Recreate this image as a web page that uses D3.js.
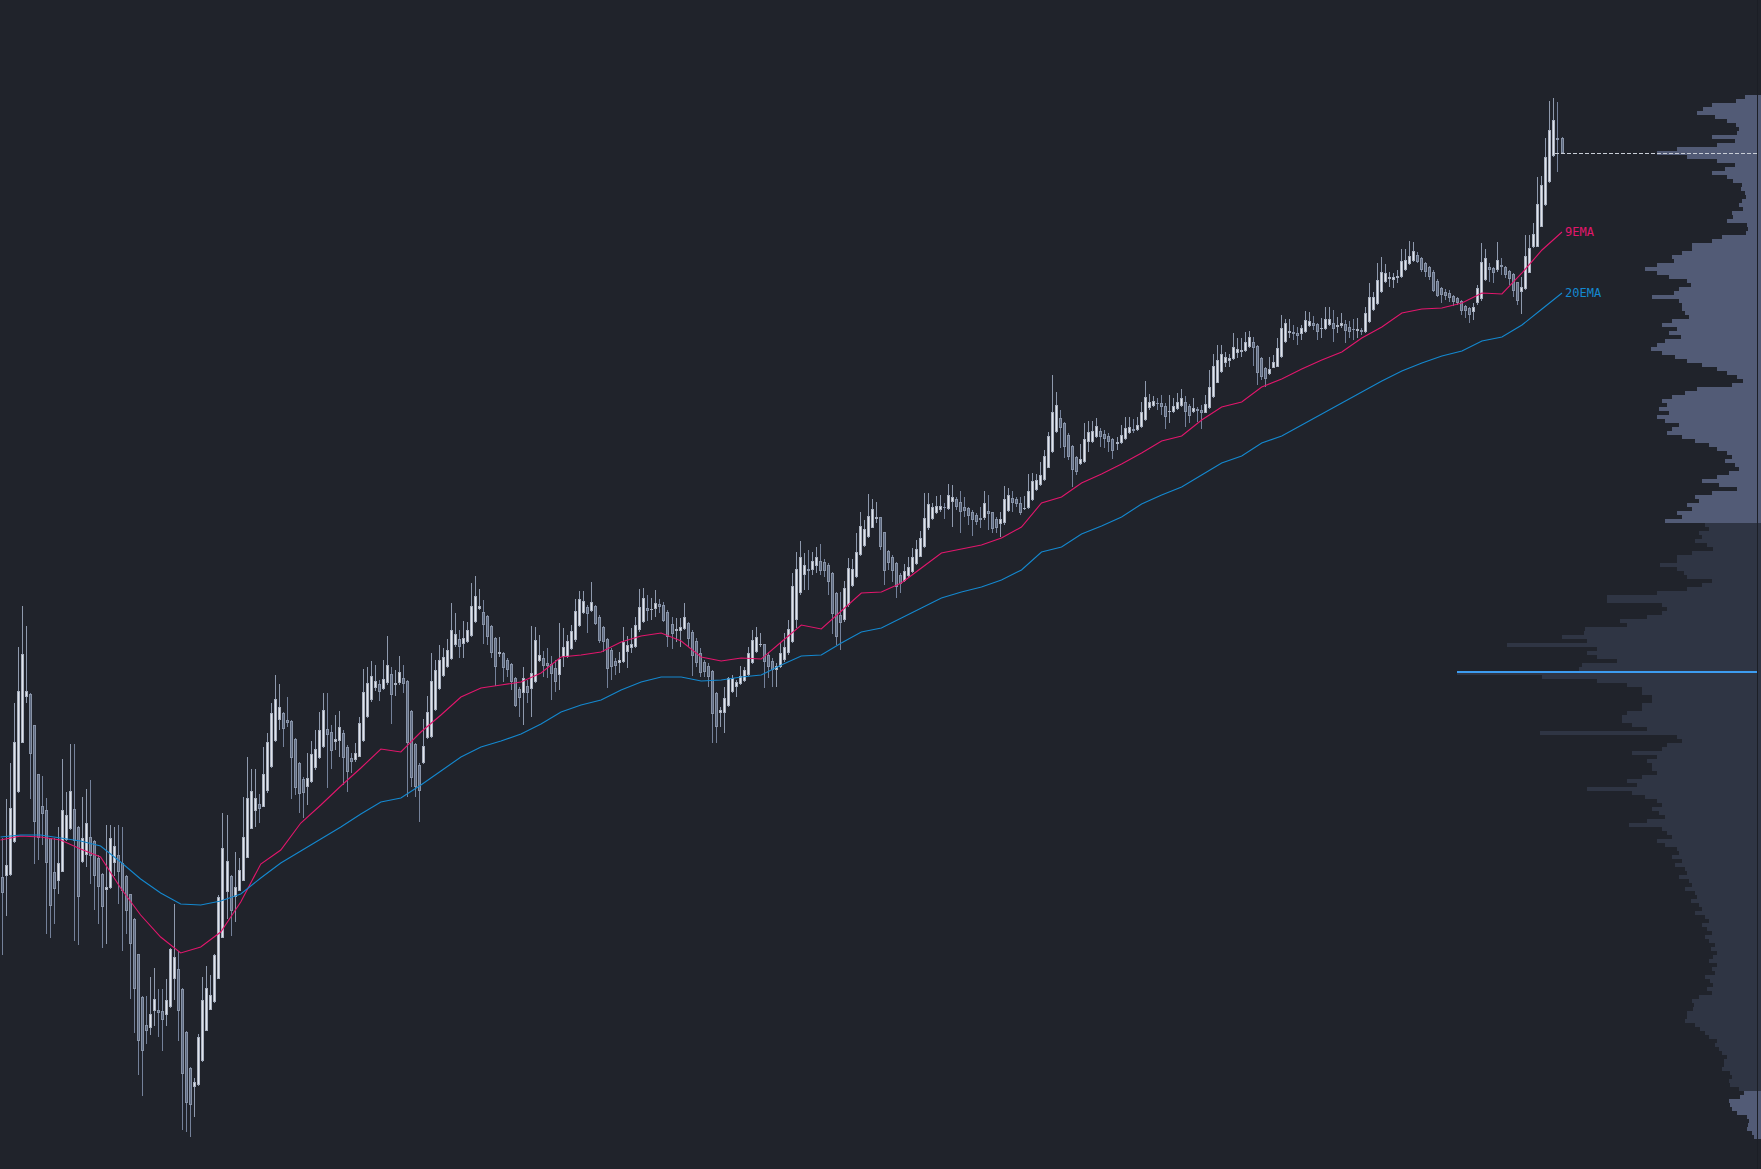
<!DOCTYPE html>
<html><head><meta charset="utf-8">
<script src="https://cdn.jsdelivr.net/npm/d3@7"></script>
<style>html,body{margin:0;padding:0;background:#20232b;overflow:hidden}</style>
</head><body>
<svg id="chart" width="1761" height="1169"></svg>
<script>
// candles: [open, high, low, close]
const candles = [
[323,362,245,307],[324,401,284,335],[325,437,324,392],[358,497,357,458],[408,553,407,509],[457,594,457,546],[503,574,497,509],[506,507,401,446],[475,475,336,378],[426,426,340,362],
[394,424,355,386],[390,402,266,337],[362,362,262,294],[328,362,276,311],[319,373,306,337],[328,441,328,390],[360,408,359,385],[371,456,370,409],[391,456,259,359],[373,374,255,303],
[338,403,337,362],[345,411,333,377],[363,420,316,344],[359,360,290,324],[342,345,276,313],[326,327,252,293],[310,375,256,313],[312,375,311,362],[337,373,324,354],[345,375,296,328],
[337,373,249,309],[324,325,266,289],[306,306,201,256],[281,282,167,211],[246,246,125,159],[203,204,104,149],[175,204,156,169],[172,223,165,186],[189,232,174,201],[190,211,163,187],
[189,211,149,180],[185,221,174,200],[193,252,192,251],[221,296,200,243],[231,249,159,189],[211,212,70,126],[168,169,68,97],[132,133,63,95],[113,122,83,118],[115,166,114,163],
[139,223,138,200],[169,234,169,212],[190,225,190,205],[198,246,197,245],[221,305,221,303],[262,387,262,352],[308,385,281,339],[324,325,264,289],[303,348,278,313],[309,342,309,330],
[319,403,319,363],[342,443,342,402],[371,431,371,409],[389,431,373,402],[396,406,377,391],[393,453,393,426],
[409,467,407,458],[433,497,432,487],[459,525,458,501],[480,516,470,493],[487,488,453,471],[480,503,473,477],[479,480,401,442],[461,462,405,412],[437,438,387,406],[421,423,382,407],
[413,447,395,422],[418,459,417,446],[432,470,430,451],[442,488,441,470],[453,507,452,490],[471,507,412,465],[468,475,431,449],[458,485,450,461],[459,489,443,473],[467,470,415,442],
[453,455,408,428],[442,447,427,438],[440,457,438,447],[443,483,443,477],[459,531,458,508],[483,533,482,517],[500,539,498,524],[512,535,509,519],[516,520,499,508],[511,540,510,521],
[517,564,515,535],[526,533,476,505],[515,530,504,517],[517,544,515,528],[522,535,507,516],[519,520,403,457],[489,490,413,422],[456,457,403,413],[435,437,378,409],[437,481,436,454],
[462,504,461,488],[463,547,462,519],[490,540,489,530],[511,555,510,540],[524,552,523,543],[533,561,532,550],[541,597,540,570],[555,587,553,566],[561,570,542,553],[556,579,542,562],
[558,578,557,570],[564,617,563,594],[578,624,577,604],[591,611,590,594],[588,600,556,575],[584,585,555,563],[574,575,542,547],[562,563,514,533],[546,563,543,548],[547,548,518,532],
[540,542,523,530],[536,537,510,518],[522,523,493,494],[511,513,483,502],[507,533,475,522],[514,520,497,507],[511,574,483,527],
[518,573,517,560],[539,565,538,545],[542,549,523,534],[537,552,522,534],[536,544,500,526],[532,540,508,518],[525,577,510,541],[543,572,533,553],[543,565,542,559],[551,575,550,569],
[560,601,558,589],[574,609,573,601],[587,609,586,599],[593,595,567,586],[589,618,588,598],[594,595,575,576],[583,585,557,559],[573,574,548,558],[561,562,512,531],[550,552,520,533],
[539,542,525,534],[537,548,527,540],[538,573,537,558],[548,564,532,555],[552,572,547,556],[553,583,552,575],[570,611,568,593],[578,612,577,602],[592,605,579,589],[590,602,580,591],
[591,610,583,597],[596,601,587,593],[595,598,578,579],[588,590,553,563],[576,583,551,566],[569,582,558,571],[569,582,553,573],[571,597,570,583],[577,578,553,561],[568,570,524,544],
[559,562,533,537],[547,552,523,527],[538,540,523,528],[534,537,513,523],[529,530,457,486],[507,508,457,473],[487,493,473,490],[487,513,467,502],[494,523,493,522],[508,525,507,522],
[513,520,503,518],[516,534,515,524],[519,533,518,530],[525,553,524,547],[537,570,536,560],[548,573,547,563],[555,567,553,556],[556,556,512,538],[545,548,522,533],[539,542,513,530],
[530,537,513,534],[533,558,532,547],[540,567,538,553],[547,580,545,571],[558,627,557,614],[580,648,572,631],
[607,659,605,643],[625,647,610,635],[631,650,610,629],[630,648,625,639],[634,653,627,643],[639,656,625,629],[638,641,623,629],[635,637,605,618],[627,628,566,586],[607,608,555,563],
[585,608,550,577],[580,619,578,612],[595,642,593,632],[614,641,613,631],[623,667,622,648],[645,688,644,674],[654,680,653,671],[663,706,662,684],[672,701,672,691],[681,698,677,683],
[683,683,650,653],[668,668,615,629],[649,650,630,637],[643,645,618,629],[637,638,602,613],[625,627,607,616],[619,636,618,629],[624,643,623,633],[628,652,627,643],[636,660,635,651],
[643,669,643,662],[653,707,652,682],[672,707,670,696],[681,697,680,693],[687,704,686,694],[690,705,688,694],[693,697,681,692],[691,716,690,705],[698,715,673,703],[701,703,690,693],
[698,709,667,688],[693,703,683,689],[692,693,675,684],[688,690,664,680],[685,687,675,678],[682,693,672,680],[682,709,680,697],[689,705,670,686],[688,688,667,671],[681,683,667,672],
[676,688,663,681],[677,714,675,701],[689,712,688,705],[702,709,688,697],[701,703,693,696],[697,703,685,687],[691,704,690,692],[692,726,691,709],[700,727,699,719],[710,726,709,720],
[715,738,714,725],[720,750,719,744],[732,768,732,764],[748,825,747,788],[768,808,767,795],[782,790,752,772],
[777,778,742,753],[765,767,740,743],[754,755,713,730],[743,744,725,728],[736,756,735,741],[738,777,737,761],[758,779,748,768],[758,779,757,769],[763,782,762,774],[769,772,753,763],
[766,770,752,761],[764,767,748,758],[761,762,741,749],[756,763,750,758],[757,775,756,765],[761,783,760,772],[767,783,766,773],[771,781,767,769],[770,783,769,775],[773,798,772,788],
[780,819,779,803],[792,806,790,798],[794,804,793,799],[797,802,790,796],[797,805,785,793],[794,797,771,783],[788,805,777,789],[788,802,787,794],[791,807,790,798],[794,811,793,802],
[798,804,773,788],[794,796,777,784],[788,802,787,792],[791,793,778,789],[790,795,771,787],[787,805,787,796],[792,830,791,813],[803,846,802,834],[817,855,817,840],[828,855,827,846],
[837,848,833,843],[839,846,833,842],[841,867,840,853],[847,862,842,851],[848,862,843,850],[849,868,848,858],[853,869,852,863],[858,863,834,852],[854,855,815,827],[842,843,820,823],
[832,833,813,821],[826,843,825,831],[832,845,832,838],[833,862,833,852],[843,885,842,872],[858,881,857,877],[867,881,862,869],[868,875,860,866],[867,873,855,864],[866,875,860,872],
[868,889,867,880],[874,888,873,879],[877,884,870,874],[876,877,860,868],[871,882,862,872],[871,893,870,881],
[875,893,874,881],[877,890,858,871],[873,883,867,875],[874,887,872,877],[876,880,857,869],[873,879,862,868],[871,881,860,870],[869,882,862,871],[870,872,865,868],[868,893,867,887],
[878,917,877,903],[890,908,889,903],[896,937,895,920],[908,943,907,928],[918,936,917,927],[921,928,913,923],[920,927,912,923],[922,930,917,924],[923,951,922,939],[930,951,929,940],
[936,959,935,944],[939,958,938,949],[945,948,937,938],[942,943,928,930],[937,938,923,928],[933,934,920,923],[928,930,908,909],[919,921,903,904],[912,913,897,905],[908,911,900,904],
[907,910,898,902],[904,905,894,898],[902,903,895,897],[899,900,885,889],[894,895,882,889],[892,893,877,885],[888,897,880,893],[897,915,895,912],[901,957,899,938],[920,951,919,942],
[933,937,918,930],[932,933,917,927],[930,958,928,940],[935,942,925,933],[933,934,922,925],[929,930,915,921],[926,927,903,909],[918,918,895,899],[908,923,886,913],[911,965,910,944],
[927,965,927,952],[953,977,952,966],[953,1023,953,996],[973,1024,973,1015],[995,1062,994,1043],[1018,1099,1017,1070],[1044,1102,1043,1080],[1062,1098,1028,1060],[1062,1063,1046,1047]
];

// higher-timeframe EMA values (one per 5 candles)
const ema9 = [360,364,363,360,351,343,312,285,263,247,253,268,298,336,350,377,395,414,432,451,
448,468,485,503,512,515,518,527,543,545,548,558,564,567,559,543,539,542,541,558,
575,571,589,607,608,617,632,647,651,655,662,673,697,703,717,726,736,747,759,764,
780,793,798,813,821,831,840,848,862,873,887,891,892,897,907,906,927,950,968];
const ema20 = [363,365,365,362,359,354,338,321,307,296,295,299,306,322,337,349,361,373,386,398,
402,415,429,443,453,459,466,476,488,495,500,510,518,523,523,519,520,523,525,535,
544,545,557,568,572,582,592,602,608,613,620,630,648,653,666,674,683,696,705,713,
725,737,744,757,764,775,786,797,808,819,829,837,844,849,859,863,875,891,907];
const emaNames = ["9EMA", "20EMA"];

// volume profile, rows from the top price downward
const profileTopPrice = 1105;
const profileRowSize = 4;
const profileVolumes = [
12,21,45,54,60,42,30,21,18,20, 45,22,40,80,100,70,40,22,32,45,
30,24,15,16,12,11,15,18,14,25, 24,30,10,9,11,35,45,65,65,75,
85,83,100,112,100,88,70,66,78,83, 105,78,75,75,72,68,85,95,80,88,
76,92,100,106,95,82,70,55,40,30, 20,14,25,60,72,85,95,90,98,88,
100,92,78,85,90,75,62,48,40,30, 25,32,22,18,28,40,55,38,20,45,
62,58,70,65,80,75,92,52,48,58, 55,62,50,44,65,80,80,97,80,73,
70,45,55,70,100,150,150,95,90,95, 110,137,130,172,173,195,170,250,160,170,
160,140,175,178,300,215,160,130,115,115, 105,105,115,115,130,135,135,125,110,217,
80,75,90,95,125,100,110,105,105,100, 115,130,120,170,125,112,100,95,105,98,
92,110,128,95,90,85,100,92,80,78, 85,75,82,72,70,78,68,65,72,62,
60,66,58,55,62,52,48,55,50,45, 52,48,42,46,40,44,48,40,45,42,
52,47,44,50,45,58,65,63,64,70, 70,72,62,57,52,48,40,42,38,35,
30,33,33,35,27,25,28,27,18,13, 17,28,27,25,20,10,8,9,10,5,3];
const valueAreaHighRow = 107;
const valueAreaLowRow = 248;

const W = 1761, H = 1169;
const C = {
  bg: "#20232b",
  upEdge: "#a9b1c0", upFill: "#e1e4ea", upWick: "#8e99ad",
  dnEdge: "#8893a7", dnFill: "#5e6a81", dnWick: "#74819a",
  ema9: "#e2166c", ema20: "#1488cf",
  profLight: "#525b76", profDark: "#2f3544", poc: "#3d9cf0",
  last: "#c8cdd6"
};

const svg = d3.select("#chart");
svg.append("rect").attr("width", W).attr("height", H).attr("fill", C.bg);

const x = d3.scaleLinear().domain([0, candles.length - 1]).range([2.5, 1562]);
const y = d3.scaleLinear().domain([31, 1200]).range([H, 0]);
const profRight = 1757;
const vx = d3.scaleLinear().domain([0, d3.max(profileVolumes)]).range([0, 300]);

// ---- volume profile
const pocRow = d3.maxIndex(profileVolumes);
const gp = svg.append("g");
gp.selectAll("rect.row").data(profileVolumes).join("rect")
  .attr("class", "row")
  .attr("x", v => profRight - Math.round(vx(v)))
  .attr("width", v => Math.round(vx(v)) + (W - profRight))
  .attr("y", (v, k) => Math.round(y(profileTopPrice - k * profileRowSize)))
  .attr("height", (v, k) => Math.round(y(profileTopPrice - (k + 1) * profileRowSize)) - Math.round(y(profileTopPrice - k * profileRowSize)))
  .attr("fill", (v, k) => (k < valueAreaHighRow || k > valueAreaLowRow) ? C.profLight : C.profDark)
  .attr("shape-rendering", "crispEdges");
const pocPrice = profileTopPrice - (pocRow + 0.5) * profileRowSize;
gp.append("rect")
  .attr("x", profRight - vx(profileVolumes[pocRow]))
  .attr("width", vx(profileVolumes[pocRow]))
  .attr("y", Math.round(y(pocPrice)) - 2).attr("height", 2)
  .attr("fill", C.poc).attr("shape-rendering", "crispEdges");
svg.append("rect").attr("x", profRight).attr("y", 0).attr("width", 1).attr("height", H)
  .attr("fill", "#1b1e25").attr("shape-rendering", "crispEdges");

// ---- candles
const gc = svg.append("g").attr("shape-rendering", "crispEdges");
candles.forEach((d, i) => {
  const [o, h, l, c] = d;
  const up = c >= o;
  const cx = Math.floor(x(i));
  const hi = Math.max(h, o, c), lo = Math.min(l, o, c);
  const yh = Math.round(y(hi)), yl = Math.round(y(lo));
  gc.append("rect").attr("x", cx).attr("y", yh).attr("width", 1).attr("height", Math.max(1, yl - yh))
    .attr("fill", up ? C.upWick : C.dnWick);
  const bt = Math.round(y(Math.max(o, c))), bb = Math.round(y(Math.min(o, c)));
  const bh = Math.max(1, bb - bt);
  gc.append("rect").attr("x", cx - 1).attr("y", bt).attr("width", 3).attr("height", bh)
    .attr("fill", up ? C.upEdge : C.dnEdge);
  if (bh > 2) {
    gc.append("rect").attr("x", cx).attr("y", bt + 1).attr("width", 1).attr("height", bh - 2)
      .attr("fill", up ? C.upFill : C.dnFill);
  }
});

// ---- EMA lines
const xe = d3.scaleLinear().domain([0, ema9.length - 1]).range([x(0) - 2, x(candles.length - 1)]);
const line = d3.line().x((v, k) => xe(k)).y(v => y(v));
[[ema9, C.ema9, emaNames[0]], [ema20, C.ema20, emaNames[1]]].forEach(([arr, col, name]) => {
  svg.append("path").attr("d", line(arr)).attr("fill", "none").attr("stroke", col).attr("stroke-width", 1.1);
  svg.append("text").attr("x", xe(arr.length - 1) + 3).attr("y", y(arr[arr.length - 1]) + 4)
    .attr("fill", col).attr("font-family", "DejaVu Sans Mono, monospace").attr("font-size", 12)
    .text(name);
});

// ---- last price line
const lastClose = candles[candles.length - 1][3];
svg.append("line")
  .attr("x1", x(candles.length - 1) - 7).attr("x2", profRight)
  .attr("y1", Math.round(y(lastClose)) + 0.5).attr("y2", Math.round(y(lastClose)) + 0.5)
  .attr("stroke", C.last).attr("stroke-width", 1).attr("stroke-dasharray", "4,2");
</script>
</body></html>
